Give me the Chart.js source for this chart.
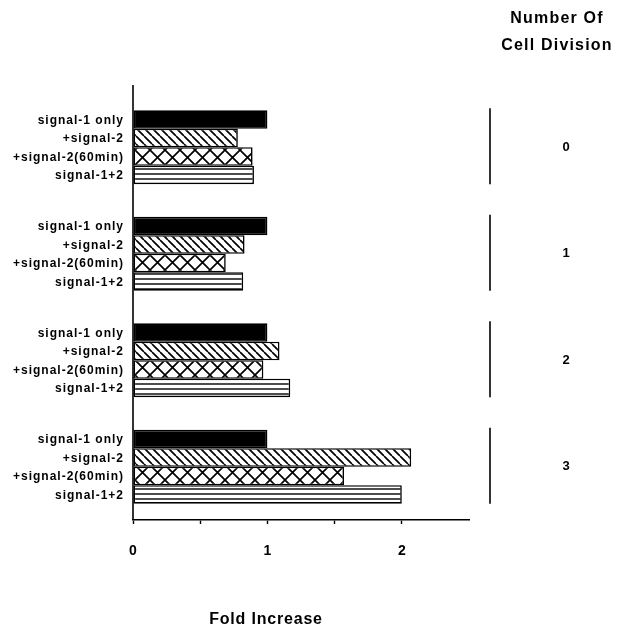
<!DOCTYPE html>
<html>
<head>
<meta charset="utf-8">
<script src="https://cdn.jsdelivr.net/npm/chart.js@4.4.1/dist/chart.umd.min.js"></script>
<style>
    html, body { margin: 0; padding: 0; background: #fff; }
    #wrap { width: 617px; height: 627px; position: relative; }
</style>
</head>
<body>
<div id="wrap"><canvas id="chart"></canvas></div>
<script>
// number of cell divisions (one group per division)
const divisions = ['0', '1', '2', '3'];
const seriesNames = ['signal-1 only', '+signal-2', '+signal-2(60min)', 'signal-1+2'];
const signal1Only = [1.0, 1.0, 1.0, 1.0];
const signal2 = [0.78, 0.83, 1.09, 2.07];
const signal2At60 = [0.89, 0.69, 0.97, 1.57];
const signal1Plus2 = [0.90, 0.82, 1.17, 2.00];
const xTickLabels = [0, 1, 2];

const FONT = '"Liberation Sans", Arial, sans-serif';

function makePattern(kind) {
    const p = kind === 'cross' ? 15 : (kind === 'diag' ? 8 : 5);
    const c = document.createElement('canvas');
    c.width = p;
    c.height = p;
    const g = c.getContext('2d');
    g.fillStyle = '#fff';
    g.fillRect(0, 0, p, p);
    g.strokeStyle = '#000';
    g.lineWidth = kind === 'horiz' ? 1.4 : 1.7;
    g.beginPath();
    if (kind === 'horiz') {
        g.moveTo(0, p - 1);
        g.lineTo(p, p - 1);
    } else {
        for (let k = -1; k <= 1; k++) {
            g.moveTo(k * p, 0);
            g.lineTo(k * p + p, p);
            if (kind === 'cross') {
                g.moveTo(k * p, p);
                g.lineTo(k * p + p, 0);
            }
        }
    }
    g.stroke();
    return g.createPattern(c, 'repeat');
}

const ctx = document.getElementById('chart').getContext('2d');
const fills = ['#000', makePattern('diag'), makePattern('cross'), makePattern('horiz')];
const seriesValues = [signal1Only, signal2, signal2At60, signal1Plus2];

// bar labels, right-hand brackets and the free text
const decorations = {
    id: 'decorations',
    afterDatasetsDraw(chart) {
        const c = chart.ctx;
        const area = chart.chartArea;
        const yScale = chart.scales.y;
        c.save();
        c.fillStyle = '#000';
        c.strokeStyle = '#000';

        // left axis line, a bit taller than the plot
        c.lineWidth = 1.6;
        c.beginPath();
        c.moveTo(area.left, area.top - 9);
        c.lineTo(area.left, area.bottom);
        c.stroke();

        // per-bar labels
        c.font = 'bold 12px ' + FONT;
        c.letterSpacing = '1px';
        c.textAlign = 'right';
        c.textBaseline = 'middle';
        chart.data.datasets.forEach((ds, i) => {
            chart.getDatasetMeta(i).data.forEach(bar => {
                c.fillText(ds.label, area.left - 9, bar.y + 1);
            });
        });

        // brackets and division numbers
        c.letterSpacing = '0px';
        c.font = 'bold 13px ' + FONT;
        c.textAlign = 'center';
        divisions.forEach((d, i) => {
            const y = yScale.getPixelForValue(i);
            c.lineWidth = 1.6;
            c.beginPath();
            c.moveTo(490, y - 39);
            c.lineTo(490, y + 37);
            c.stroke();
            c.fillText(d, 566, y);
        });

        c.font = 'bold 16px ' + FONT;
        c.letterSpacing = '1.2px';
        c.fillText('Number Of', 557, 19);
        c.fillText('Cell Division', 557, 46);
        c.letterSpacing = '0.8px';
        c.fillText('Fold Increase', 266, 620);
        c.restore();
    }
};

new Chart(ctx, {
    type: 'bar',
    data: {
        labels: divisions,
        datasets: seriesNames.map((name, i) => ({
            label: name,
            data: seriesValues[i],
            backgroundColor: fills[i],
            borderColor: '#000',
            borderWidth: 1.6,
            borderSkipped: false,
            categoryPercentage: 0.694,
            barPercentage: 1.0
        }))
    },
    options: {
        indexAxis: 'y',
        responsive: true,
        maintainAspectRatio: false,
        animation: false,
        layout: {
            padding: { left: 133, right: 148, top: 94, bottom: 0 }
        },
        scales: {
            y: {
                display: false
            },
            x: {
                min: 0,
                max: 2.5,
                afterFit: scale => { scale.height = 107; },
                afterBuildTicks: scale => {
                    scale.ticks = [0, 0.5, 1, 1.5, 2, 2.5].map(v => ({ value: v }));
                },
                border: { display: true, color: '#000', width: 1.6 },
                grid: {
                    drawOnChartArea: false,
                    tickLength: 4,
                    tickWidth: 1.4,
                    tickColor: c => (c.tick && c.tick.value === 2.5) ? 'rgba(0,0,0,0)' : '#000'
                },
                ticks: {
                    padding: 19,
                    color: '#000',
                    font: { family: FONT, size: 14, weight: 'bold' },
                    callback: v => xTickLabels.includes(v) ? String(v) : ''
                }
            }
        },
        plugins: {
            legend: { display: false },
            tooltip: { enabled: false }
        }
    },
    plugins: [decorations]
});
</script>
</body>
</html>
